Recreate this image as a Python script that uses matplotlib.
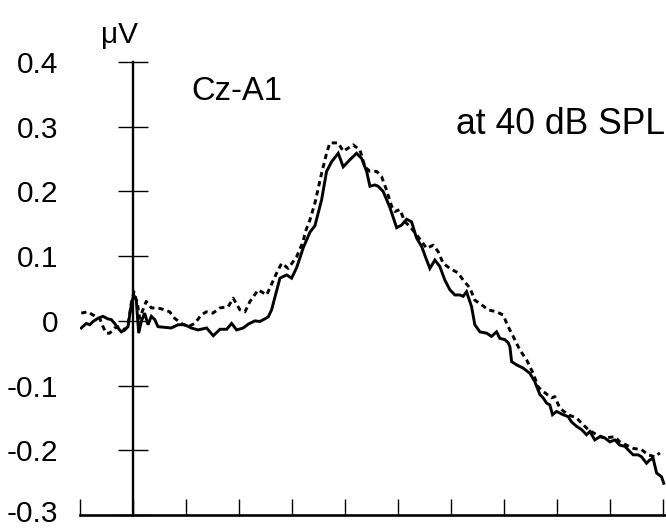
import matplotlib
matplotlib.use("Agg")
import matplotlib.pyplot as plt
from matplotlib.transforms import ScaledTranslation

plt.rcParams["font.family"] = ["Liberation Sans", "DejaVu Sans"]

# time (ms) and amplitude (uV)
t_solid = [-48.8, -44.1, -40.8, -37.7, -33.0, -28.3, -23.6, -20.5, -17.3, -14.2,
           -11.0, -7.8, -4.7, -1.6, 0.7, 3.1, 5.4, 7.8, 11.0, 14.2,
           17.3, 20.5, 23.6, 29.9, 36.1, 42.5, 48.8, 55.0, 61.3, 69.5,
           75.8, 82.1, 88.4, 93.1, 97.8, 104.1, 108.8, 115.1, 119.8, 127.6,
           130.8, 138.7, 145.0, 149.7, 154.4, 160.7, 167.0, 171.7, 178.0, 182.7,
           187.5, 193.7, 198.4, 204.7, 211.0, 215.8, 220.5, 223.6, 228.3, 231.4,
           236.1, 242.5, 248.8, 253.5, 258.2, 262.9, 267.6, 272.4, 277.1, 280.2,
           284.9, 289.6, 294.3, 299.1, 303.8, 308.5, 311.6, 314.8, 319.5, 322.6,
           327.4, 333.7, 338.4, 343.1, 346.2, 350.9, 354.1, 355.7, 357.3, 362.0,
           368.2, 374.5, 379.2, 384.0, 387.1, 390.3, 393.4, 395.9, 399.7, 405.9,
           410.7, 413.8, 418.6, 423.3, 428.0, 431.1, 435.8, 440.6, 445.3, 450.0,
           454.7, 459.4, 464.2, 468.9, 472.0, 476.7, 479.9, 484.6, 487.7, 490.8,
           494.1, 498.8, 500.9]
v_solid = [-0.011, -0.004, -0.006, -0.001, 0.004, 0.007, 0.003, 0.002, -0.004, -0.011,
           -0.017, -0.014, -0.009, 0.025, 0.040, 0.032, -0.019, -0.001, 0.012, -0.006,
           0.007, 0.002, -0.009, -0.010, -0.011, -0.006, -0.006, -0.011, -0.014, -0.011,
           -0.023, -0.013, -0.013, -0.004, -0.014, -0.011, -0.005, 0.000, -0.001, 0.006,
           0.017, 0.066, 0.071, 0.066, 0.082, 0.113, 0.137, 0.147, 0.187, 0.231,
           0.246, 0.259, 0.238, 0.249, 0.259, 0.251, 0.231, 0.208, 0.210, 0.208,
           0.200, 0.175, 0.144, 0.148, 0.157, 0.153, 0.128, 0.115, 0.094, 0.081,
           0.094, 0.084, 0.063, 0.048, 0.040, 0.040, 0.038, 0.045, 0.022, -0.006,
           -0.017, -0.019, -0.024, -0.017, -0.027, -0.029, -0.034, -0.040, -0.063, -0.068,
           -0.073, -0.081, -0.094, -0.114, -0.119, -0.127, -0.130, -0.145, -0.140, -0.145,
           -0.148, -0.156, -0.163, -0.168, -0.176, -0.171, -0.184, -0.179, -0.181, -0.187,
           -0.184, -0.192, -0.194, -0.202, -0.207, -0.207, -0.210, -0.220, -0.215, -0.212,
           -0.235, -0.241, -0.251]

t_dash = [-48.8, -42.5, -37.7, -31.4, -28.3, -25.2, -22.0, -17.3, -12.5, -7.8,
          -4.7, -1.6, 0.9, 4.1, 6.3, 9.4, 12.5, 17.3, 23.6, 29.9,
          34.6, 39.3, 45.6, 51.9, 58.2, 64.4, 69.2, 75.5, 82.1, 89.9,
          94.6, 100.9, 105.7, 110.4, 118.2, 126.1, 135.6, 140.3, 146.5, 150.9,
          154.4, 160.7, 162.3, 167.0, 171.7, 178.0, 182.7, 185.8, 193.7, 198.4,
          203.1, 207.8, 214.2, 218.9, 223.6, 229.9, 234.6, 239.3, 244.1, 247.2,
          251.9, 256.6, 261.3, 267.6, 272.4, 277.1, 283.3, 288.0, 292.7, 299.1,
          306.9, 311.6, 317.9, 322.6, 328.9, 335.2, 343.1, 349.3, 354.1, 358.8,
          365.1, 371.4, 377.6, 382.3, 387.1, 395.0, 398.1, 402.8, 410.7, 418.6,
          423.3, 429.6, 437.5, 445.3, 454.7, 459.4, 465.7, 472.0, 479.9, 486.1,
          492.5, 497.2]
v_dash = [0.012, 0.014, 0.009, 0.004, -0.009, -0.019, -0.019, -0.011, -0.009, -0.014,
          -0.006, 0.027, 0.045, 0.027, 0.004, 0.017, 0.030, 0.020, 0.020, 0.017,
          0.014, 0.004, -0.004, -0.009, -0.004, 0.009, 0.014, 0.012, 0.020, 0.022,
          0.035, 0.017, 0.014, 0.030, 0.048, 0.040, 0.074, 0.089, 0.081, 0.091,
          0.099, 0.123, 0.136, 0.156, 0.182, 0.228, 0.259, 0.275, 0.275, 0.262,
          0.267, 0.272, 0.264, 0.238, 0.231, 0.231, 0.223, 0.202, 0.177, 0.169,
          0.172, 0.153, 0.146, 0.133, 0.123, 0.112, 0.117, 0.107, 0.089, 0.081,
          0.074, 0.063, 0.051, 0.032, 0.025, 0.017, 0.014, 0.009, -0.009, -0.024,
          -0.045, -0.060, -0.081, -0.102, -0.109, -0.119, -0.117, -0.135, -0.145, -0.150,
          -0.158, -0.168, -0.176, -0.181, -0.179, -0.187, -0.192, -0.197, -0.199, -0.207,
          -0.210, -0.204]

x_ticks = [-50, 0, 50, 100, 150, 200, 250, 300, 350, 400, 450, 500]
y_ticks = [-0.3, -0.2, -0.1, 0.0, 0.1, 0.2, 0.3, 0.4]
y_labels = ["-0.3", "-0.2", "-0.1", "0", "0.1", "0.2", "0.3", "0.4"]

fig = plt.figure(figsize=(6.66, 5.30), dpi=100)
ax = fig.add_axes([0.1201, 0.0283, 0.8799, 0.8547])

ax.plot(t_solid, v_solid, color="black", lw=2.1, solid_joinstyle="miter")
ax.plot(t_dash, v_dash, color="black", lw=2.1, ls=(0, (1.8, 1.4)))

ax.set_xlim(-50, 503)
ax.set_ylim(-0.3, 0.4)

for side in ("top", "right"):
    ax.spines[side].set_visible(False)
ax.spines["left"].set_position(("data", 0))
ax.spines["left"].set_linewidth(1.7)
ax.spines["bottom"].set_linewidth(1.9)

ax.set_xticks(x_ticks)
ax.set_xticklabels([])
ax.tick_params(axis="x", direction="in", length=11.5, width=1.0)
ax.set_yticks(y_ticks)
ax.set_yticklabels(y_labels)
ax.tick_params(axis="y", direction="inout", length=22, width=1.0,
               labelsize=21.5, pad=43)
# lift the bottom label a little so it stays inside the canvas
low = ax.yaxis.get_major_ticks()[0].label1
low.set_transform(low.get_transform() + ScaledTranslation(0, 3 / 72, fig.dpi_scale_trans))

ax.text(-30, 0.429, "\u03bcV", fontsize=21.5, clip_on=False)
ax.text(55, 0.341, "Cz-A1", fontsize=23.5)
ax.text(305, 0.288, "at 40 dB SPL", fontsize=25.6, clip_on=False)

fig.savefig("out.png", dpi=100)
